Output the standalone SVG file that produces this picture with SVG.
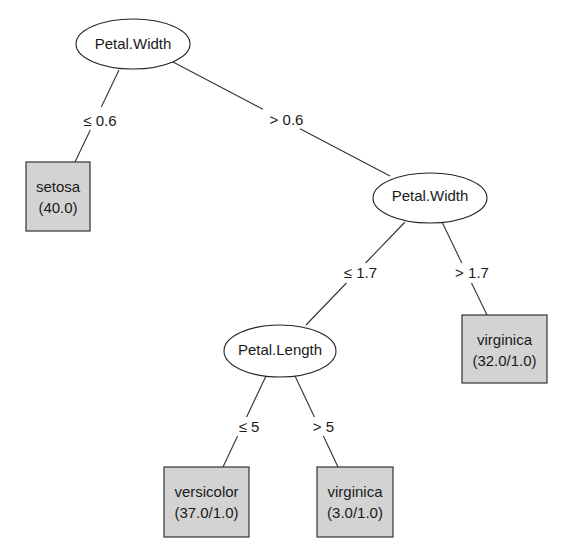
<svg xmlns="http://www.w3.org/2000/svg" width="567" height="558" viewBox="0 0 567 558">
<style>
.bg{fill:#ffffff}
.edge{fill:none;stroke:#333333;stroke-width:1.1}
.ell{fill:#ffffff;stroke:#222222;stroke-width:1.1}
.box{fill:#d3d3d3;stroke:#333333;stroke-width:1.2}
text{font-family:"Liberation Sans",Arial,sans-serif;font-size:15px;fill:#1a1a1a;text-anchor:middle}
</style>
<rect class="bg" x="0" y="0" width="567" height="558"/>
<g id="connectors">
<path class="edge" d="M119,70 L101.3,107 M90.3,130 L75,162"/>
<path class="edge" d="M173,62 L263,109.3 M300,128.7 L390,176"/>
<path class="edge" d="M405,222 L365.6,263 M346.4,283 L306,325"/>
<path class="edge" d="M442,222 L461.8,263 M471.5,283 L487,315"/>
<path class="edge" d="M266,376 L246.6,417 M237.6,436 L223,467"/>
<path class="edge" d="M295,376 L314.4,417 M323.4,436 L338,467"/>
<text x="100" y="126">≤ 0.6</text>
<text x="286.5" y="125">&gt; 0.6</text>
<text x="360.5" y="278">≤ 1.7</text>
<text x="472" y="278">&gt; 1.7</text>
<text x="249" y="432">≤ 5</text>
<text x="323.5" y="432">&gt; 5</text>
</g>
<g id="node-root">
<ellipse class="ell" cx="133" cy="44" rx="57" ry="25"/>
<text x="133" y="49">Petal.Width</text>
</g>
<g id="node-setosa">
<rect class="box" x="26" y="162" width="64" height="69"/>
<text x="58" y="192">setosa</text>
<text x="58" y="213">(40.0)</text>
</g>
<g id="node-pw2">
<ellipse class="ell" cx="430" cy="198" rx="57" ry="25"/>
<text x="430" y="201">Petal.Width</text>
</g>
<g id="node-virginica1">
<rect class="box" x="462" y="315" width="85" height="68"/>
<text x="504.5" y="345">virginica</text>
<text x="504.5" y="366">(32.0/1.0)</text>
</g>
<g id="node-pl">
<ellipse class="ell" cx="280" cy="351" rx="56" ry="26"/>
<text x="280" y="355">Petal.Length</text>
</g>
<g id="node-versicolor">
<rect class="box" x="164" y="467" width="85" height="70"/>
<text x="206.5" y="497">versicolor</text>
<text x="206.5" y="518">(37.0/1.0)</text>
</g>
<g id="node-virginica2">
<rect class="box" x="317" y="467" width="76" height="70"/>
<text x="355" y="497">virginica</text>
<text x="355" y="518">(3.0/1.0)</text>
</g>
</svg>
